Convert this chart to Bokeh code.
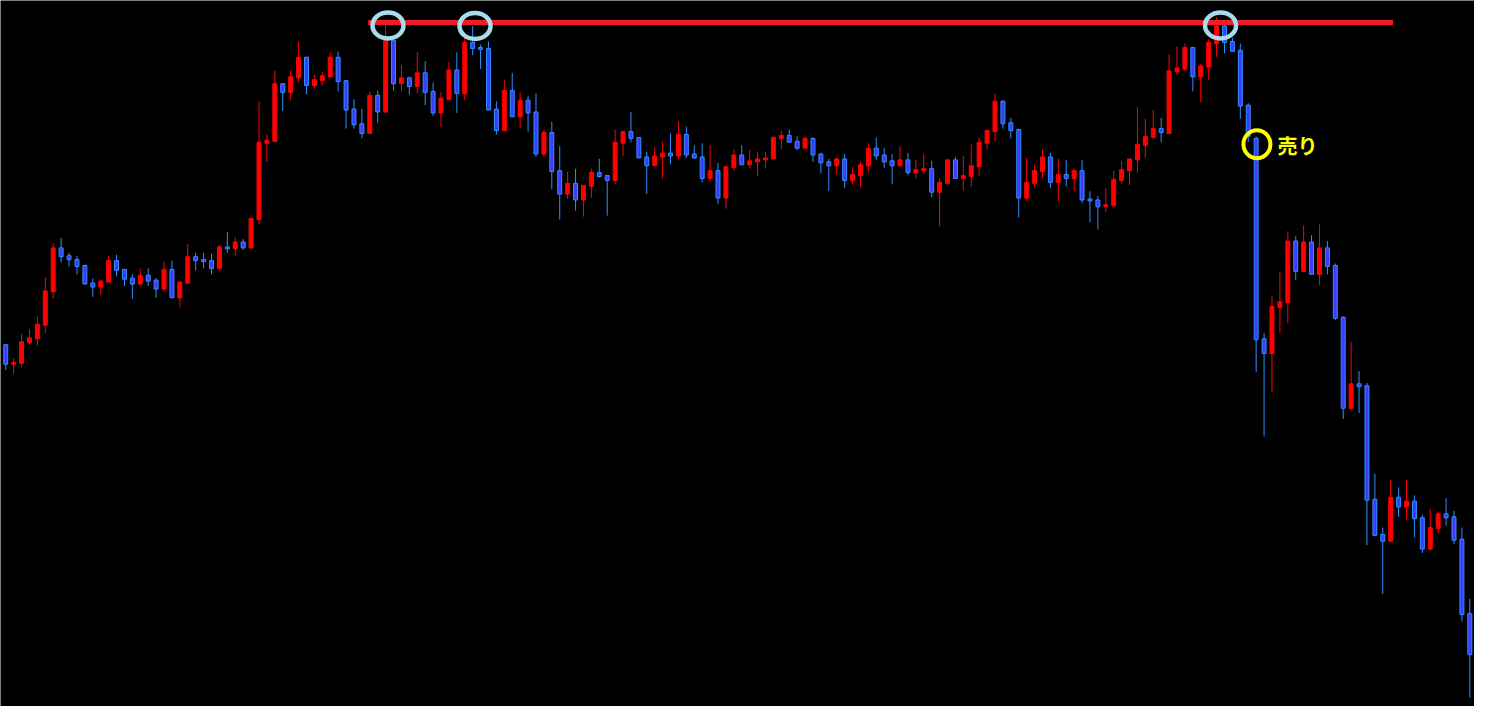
from bokeh.plotting import figure
from bokeh.models import ColumnDataSource, Range1d
from bokeh.embed import file_html
from bokeh.resources import INLINE
from bokeh.core.properties import value

# ---- candle data (one candle per period) ----
opens = [
    648, 628, 629, 650, 654, 668, 702, 747, 739, 735,
    729, 711, 707, 712, 734, 725, 716, 710, 719, 714,
    705, 725, 696, 711, 738, 735, 734, 726, 748, 746,
    753, 747, 776, 854, 856, 915, 906, 921, 942, 913,
    918, 922, 942, 918, 889, 874, 864, 903, 886, 959,
    915, 921, 912, 926, 907, 885, 899, 929, 905, 957,
    952, 951, 889, 867, 908, 881, 898, 886, 843, 865,
    826, 802, 813, 796, 810, 824, 821, 816, 854, 866,
    860, 840, 831, 840, 844, 841, 863, 843, 840, 818,
    826, 798, 829, 842, 832, 835, 837, 838, 859, 862,
    856, 849, 859, 843, 835, 831, 838, 816, 821, 831,
    849, 842, 836, 831, 837, 824, 826, 828, 804, 813,
    837, 818, 820, 830, 854, 866, 897, 875, 868, 798,
    813, 825, 840, 814, 822, 818, 826, 797, 796, 789,
    790, 816, 826, 837, 852, 860, 869, 864, 927, 930,
    952, 922, 932, 956, 974, 958, 949, 893, 859, 654,
    639, 686, 691, 754, 723, 753, 720, 747, 729, 676,
    583, 608, 606, 490, 454, 447, 492, 482, 488, 471,
    439, 460, 475, 472, 449, 373,
]
highs = [
    648, 634, 659, 664, 677, 717, 752, 757, 742, 739,
    730, 716, 714, 739, 740, 725, 720, 726, 726, 716,
    733, 734, 712, 751, 742, 742, 741, 750, 763, 758,
    756, 777, 897, 863, 928, 915, 928, 958, 942, 924,
    927, 947, 948, 919, 899, 889, 907, 908, 975, 959,
    934, 922, 947, 938, 916, 906, 937, 947, 962, 974,
    955, 958, 897, 919, 926, 906, 902, 905, 868, 876,
    851, 825, 828, 811, 828, 838, 821, 868, 866, 886,
    860, 845, 850, 856, 864, 876, 871, 852, 854, 852,
    834, 830, 848, 852, 847, 845, 845, 861, 867, 868,
    861, 861, 860, 844, 838, 839, 843, 830, 835, 854,
    860, 849, 843, 851, 844, 837, 843, 836, 818, 838,
    840, 841, 853, 860, 868, 905, 898, 880, 869, 839,
    832, 848, 844, 838, 837, 828, 837, 805, 800, 808,
    826, 836, 838, 891, 879, 888, 880, 945, 953, 956,
    952, 935, 960, 983, 980, 962, 956, 895, 861, 660,
    698, 723, 764, 759, 770, 760, 771, 754, 731, 677,
    651, 621, 609, 516, 461, 510, 502, 510, 494, 474,
    480, 477, 491, 478, 461, 388,
]
lows = [
    622, 618, 625, 648, 647, 660, 695, 732, 728, 720,
    710, 697, 699, 712, 718, 708, 695, 709, 708, 696,
    702, 696, 686, 710, 724, 726, 720, 724, 742, 739,
    745, 746, 771, 835, 856, 887, 898, 916, 904, 910,
    913, 921, 907, 869, 869, 859, 864, 875, 885, 908,
    907, 904, 905, 893, 882, 871, 898, 885, 898, 944,
    930, 888, 863, 867, 881, 870, 866, 840, 840, 807,
    776, 797, 785, 779, 798, 819, 780, 812, 841, 855,
    839, 802, 831, 818, 833, 838, 839, 838, 814, 815,
    792, 787, 826, 832, 828, 820, 828, 838, 848, 855,
    847, 849, 835, 823, 805, 822, 808, 812, 809, 824,
    837, 829, 812, 830, 821, 818, 823, 799, 769, 811,
    818, 806, 809, 821, 848, 856, 869, 859, 778, 795,
    809, 818, 808, 795, 810, 805, 793, 773, 766, 784,
    790, 813, 811, 824, 839, 858, 855, 864, 924, 928,
    907, 896, 919, 942, 946, 948, 879, 855, 620, 554,
    599, 660, 670, 714, 722, 720, 709, 720, 673, 572,
    581, 578, 443, 452, 393, 447, 472, 469, 451, 435,
    438, 455, 463, 444, 365, 287,
]
closes = [
    628, 630, 651, 655, 669, 703, 747, 738, 735, 728,
    710, 707, 713, 734, 724, 715, 710, 719, 713, 705,
    725, 696, 712, 738, 734, 733, 726, 748, 746, 753,
    747, 777, 855, 857, 915, 906, 922, 942, 913, 919,
    923, 942, 917, 888, 873, 864, 903, 886, 959, 915,
    921, 912, 926, 906, 885, 900, 929, 905, 957, 951,
    950, 888, 867, 908, 881, 898, 885, 843, 865, 825,
    802, 813, 796, 811, 824, 820, 816, 855, 866, 859,
    839, 831, 841, 844, 841, 863, 842, 839, 818, 826,
    798, 830, 842, 832, 836, 838, 839, 860, 862, 855,
    849, 859, 842, 834, 831, 838, 816, 822, 832, 849,
    841, 835, 831, 837, 824, 827, 828, 804, 814, 837,
    818, 821, 831, 855, 867, 897, 874, 867, 798, 814,
    826, 840, 814, 822, 818, 826, 796, 795, 789, 791,
    817, 827, 838, 853, 861, 869, 865, 928, 931, 952,
    922, 933, 957, 974, 957, 948, 892, 861, 653, 639,
    687, 692, 754, 723, 753, 720, 747, 728, 675, 583,
    608, 605, 489, 453, 447, 492, 482, 488, 470, 439,
    461, 475, 471, 448, 372, 331,
]

# resistance line and its touches
resistance_level = [977.5]
resistance_from = [45.8]
resistance_to = [175.3]
touch_x = [48.3, 59.3, 153.5]
touch_y = [974.5, 974.0, 974.5]

# sell signal
sell_x = [158.1]
sell_y = [853.0]
sell_label = ["売り"]
label_x = [160.7]
label_y = [852.0]

UP_COLOR = "#ff0000"
DOWN_FILL = "#3c3cff"
DOWN_LINE = "#2f8fff"

n = len(opens)
xs = list(range(n))
up = [c >= o for o, c in zip(opens, closes)]
src = ColumnDataSource(dict(
    x=xs,
    high=highs,
    low=lows,
    top=[max(o, c) for o, c in zip(opens, closes)],
    bottom=[min(o, c) for o, c in zip(opens, closes)],
    fill=[UP_COLOR if u else DOWN_FILL for u in up],
    line=[UP_COLOR if u else DOWN_LINE for u in up],
))

p = figure(
    width=1474, height=706,
    x_range=Range1d(-0.6625, 185.59),
    y_range=Range1d(278, 1000),
    x_axis_type=None, y_axis_type=None,
    background_fill_color="black", border_fill_color="black",
    outline_line_color=None, min_border=0,
    toolbar_location=None, output_backend="svg",
)
p.grid.visible = False

p.segment(x0="x", y0="low", x1="x", y1="high", source=src,
          line_color="line", line_width=1)
p.vbar(x="x", top="top", bottom="bottom", width=0.5, source=src,
       fill_color="fill", line_color="line", line_width=1)

p.segment(x0=resistance_from, y0=resistance_level,
          x1=resistance_to, y1=resistance_level,
          line_color="#ee1c24", line_width=5)

p.ellipse(x=touch_x, y=touch_y, width=31, height=26,
          width_units="screen", height_units="screen",
          fill_color=None, line_color="#a8dcea", line_width=4.5)

p.ellipse(x=sell_x, y=sell_y, width=27, height=28,
          width_units="screen", height_units="screen",
          fill_color=None, line_color="#ffff00", line_width=4)

p.text(x=label_x, y=label_y, text=sell_label, text_color="#ffff00",
       text_font=value("Noto Sans CJK JP"), text_font_size="20px",
       text_font_style="bold", text_baseline="middle", text_align="left")

open("out.html", "w").write(file_html(p, INLINE))
